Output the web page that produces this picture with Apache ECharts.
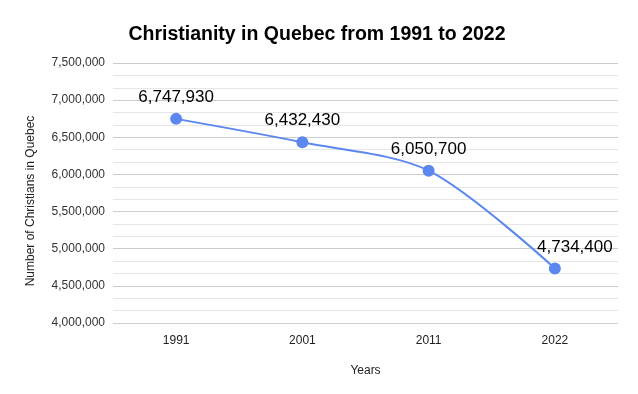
<!DOCTYPE html>
<html><head><meta charset="utf-8">
<script src="https://cdn.jsdelivr.net/npm/echarts@6/dist/echarts.min.js"></script>
<style>html,body{margin:0;padding:0;background:#fff}#c{width:638px;height:394px}</style>
</head><body><div id="c"></div>
<script>
var years = ['1991', '2001', '2011', '2022'];
var christians = [6747930, 6432430, 6050700, 4734400];
var yTicks = [4000000, 4500000, 5000000, 5500000, 6000000, 6500000, 7000000, 7500000];

function fmt(v){ return v.toString().replace(/\B(?=(\d{3})+(?!\d))/g, ','); }

var chart = echarts.init(document.getElementById('c'));
chart.setOption({
  backgroundColor: '#fff',
  animation: false,
  title: {
    text: 'Christianity in Quebec from 1991 to 2022',
    left: 312, top: 20, textAlign: 'center',
    textStyle: {fontFamily: 'Liberation Sans', fontSize: 19.5, fontWeight: 'bold', color: '#000'}
  },
  grid: {left: 113, right: 20, top: 63, bottom: 71},
  xAxis: {
    type: 'category', data: years, boundaryGap: true,
    name: 'Years', nameLocation: 'middle', nameGap: 42,
    nameTextStyle: {fontFamily: 'Liberation Sans', fontSize: 12, color: '#222'},
    axisLine: {show: false}, axisTick: {show: false},
    axisLabel: {fontFamily: 'Liberation Sans', fontSize: 12, color: '#222', margin: 12}
  },
  yAxis: {
    type: 'value', min: yTicks[0], max: yTicks[yTicks.length-1], interval: 500000,
    name: 'Number of Christians in Quebec', nameLocation: 'middle', nameGap: 76,
    nameTextStyle: {fontFamily: 'Liberation Sans', fontSize: 12, color: '#222', padding: [0, 16, 0, 0]},
    axisLine: {show: false}, axisTick: {show: false},
    axisLabel: {fontFamily: 'Liberation Sans', fontSize: 12, color: '#333', margin: 8, formatter: fmt},
    splitLine: {lineStyle: {color: '#cccccc', width: 1}},
    minorTick: {show: false, splitNumber: 3},
    minorSplitLine: {show: true, lineStyle: {color: '#e6e6e6', width: 1}}
  },
  series: [{
    type: 'line', data: christians.map(function(v, i){
      var d = {value: v};
      if (i === christians.length - 1) d.label = {offset: [20, 0]};
      return d;
    }),
    smooth: 0.3,
    symbol: 'circle', symbolSize: 12,
    itemStyle: {color: '#5b87ee'},
    lineStyle: {color: '#5b87ee', width: 2},
    label: {
      show: true, position: 'top', distance: 7,
      fontFamily: 'Liberation Sans', fontSize: 17, color: '#000',
      formatter: function(p){ return fmt(p.value); }
    }
  }]
});
</script></body></html>
